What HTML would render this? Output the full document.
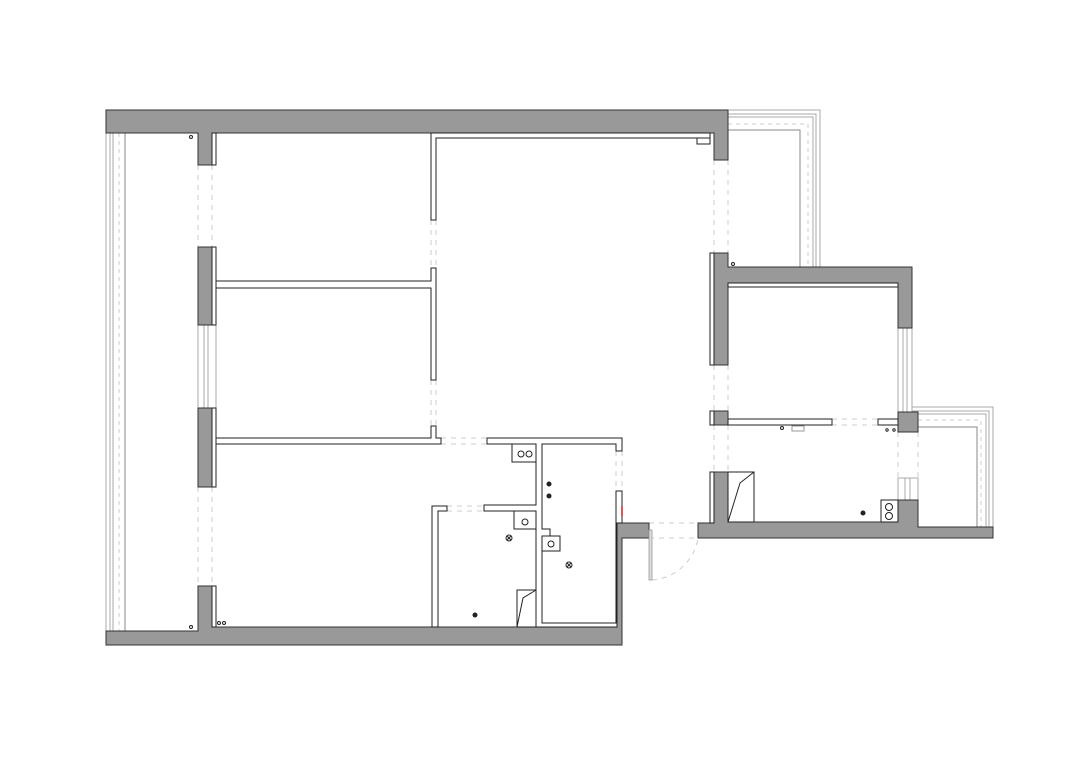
<!DOCTYPE html>
<html><head><style>html,body{margin:0;padding:0;background:#fff}svg{display:block}</style></head>
<body>
<svg width="1080" height="763" viewBox="0 0 1080 763" xmlns="http://www.w3.org/2000/svg">
<g fill="none" stroke="#aaa" stroke-width="1">
<line x1="106" y1="133" x2="106" y2="631"/><line x1="110" y1="133" x2="110" y2="631"/><line x1="113" y1="133" x2="113" y2="631"/>
<line x1="119" y1="133" x2="119" y2="631" stroke-dasharray="4 4" stroke="#ccc"/>
<line x1="125" y1="133" x2="125" y2="631" stroke="#888"/>
<polyline points="728,110 820,110 820,267"/><polyline points="728,114 816,114 816,267"/><polyline points="728,117 813,117 813,267"/>
<polyline points="728,124 808,124 808,267" stroke-dasharray="4 4" stroke="#ccc"/>
<polyline points="728,130 800,130 800,267" stroke="#888"/>
<polyline points="912,407 993,407 993,527"/><polyline points="912,411 989,411 989,527"/><polyline points="918,414 986,414 986,527"/>
<polyline points="918,420 981,420 981,527" stroke-dasharray="4 4" stroke="#ccc"/>
<polyline points="918,427 977,427 977,527" stroke="#888"/>
<rect x="198" y="325" width="18" height="83"/><line x1="204" y1="325" x2="204" y2="408"/><line x1="208" y1="325" x2="208" y2="408"/>
<rect x="898" y="328" width="14" height="84"/><line x1="903" y1="328" x2="903" y2="412"/><line x1="907" y1="328" x2="907" y2="412"/>
<rect x="898" y="478" width="20" height="22"/><line x1="905" y1="478" x2="905" y2="500"/><line x1="910" y1="478" x2="910" y2="500"/>
</g>
<g stroke="#ccc" stroke-width="1" stroke-dasharray="5 5" fill="none">
<line x1="198" y1="165" x2="198" y2="247"/><line x1="212" y1="165" x2="212" y2="247"/>
<line x1="198" y1="487" x2="198" y2="586"/><line x1="212" y1="487" x2="212" y2="586"/>
<line x1="431" y1="220" x2="431" y2="268"/><line x1="436" y1="220" x2="436" y2="268"/>
<line x1="431" y1="380" x2="431" y2="426"/><line x1="436" y1="380" x2="436" y2="426"/>
<line x1="441" y1="438" x2="487" y2="438"/><line x1="441" y1="444" x2="487" y2="444"/>
<line x1="447" y1="506" x2="484" y2="506"/><line x1="447" y1="511" x2="484" y2="511"/>
<line x1="616" y1="451" x2="616" y2="491"/><line x1="622" y1="451" x2="622" y2="491"/>
<line x1="714" y1="160" x2="714" y2="253"/><line x1="728" y1="160" x2="728" y2="253"/>
<line x1="714" y1="365" x2="714" y2="411"/><line x1="728" y1="365" x2="728" y2="411"/>
<line x1="714" y1="425" x2="714" y2="472"/><line x1="728" y1="425" x2="728" y2="472"/>
<line x1="832" y1="419" x2="878" y2="419"/><line x1="832" y1="425" x2="878" y2="425"/>
<line x1="898" y1="432" x2="898" y2="478"/><line x1="918" y1="432" x2="918" y2="478"/>
<line x1="649" y1="523" x2="698" y2="523"/><line x1="649" y1="538" x2="698" y2="538"/>
<path d="M652,580 A50,50 0 0 0 698,538"/>
</g>
<g fill="#999" stroke="#333" stroke-width="1">
<path d="M106,110 H728 V160 H714 V133 H212 V165 H198 V133 H106 Z"/>
<rect x="198" y="247" width="14" height="78"/>
<rect x="198" y="408" width="14" height="79"/>
<path d="M106,645 V631 H198 V586 H212 V627 H617 V523 H649 V538 H622 V645 Z"/>
<path d="M714,253 H728 V267 H912 V328 H898 V283 H728 V365 H714 Z"/>
<rect x="714" y="411" width="14" height="14"/>
<rect x="898" y="412" width="20" height="20"/>
<path d="M698,538 V523 H714 V472 H728 V522 H898 V500 H918 V527 H993 V538 Z"/>
</g>
<g fill="#fff" stroke="#222" stroke-width="1">
<rect x="212" y="133" width="4" height="32"/><rect x="212" y="247" width="4" height="78"/><rect x="212" y="408" width="4" height="79"/><rect x="212" y="586" width="4" height="41"/>
<path d="M431,133 V220 H436 V138 H710 V133 Z"/>
<path d="M697,138 H710 V144 H697 Z"/>
<path d="M216,281 H431 V268 H436 V380 H431 V288 H216 Z"/>
<path d="M216,438 H431 V426 H436 V438 H441 V444 H216 Z"/>
<path d="M487,438 H622 V451 H616 V444 H542 V529 H550 V536 H542 V623 H616 V491 H622 V523 H617 V627 H536 V511 H484 V505 H536 V444 H487 Z"/>
<path d="M432,627 V506 H447 V511 H438 V627 Z"/>
<rect x="710" y="253" width="4" height="112"/><rect x="710" y="411" width="4" height="14"/><rect x="710" y="472" width="4" height="51"/>
<rect x="728" y="283" width="170" height="4"/>
<rect x="728" y="419" width="104" height="6"/><rect x="878" y="419" width="20" height="6"/>
<rect x="512" y="444" width="24" height="18"/><rect x="514" y="511" width="22" height="18"/><rect x="542" y="536" width="18" height="15"/>
<rect x="881" y="500" width="17" height="22"/>
<path d="M517,627 V590 H536 V627 Z"/><path d="M728,472 H754 V522 H728 Z"/>
</g>
<g fill="none" stroke="#222" stroke-width="1">
<polyline points="517,627 523,598 536,590"/><polyline points="728,522 740,483 754,472"/>
<circle cx="521" cy="454" r="3"/><circle cx="529" cy="454" r="3"/><circle cx="525" cy="522" r="3"/><circle cx="551" cy="544" r="3"/>
<circle cx="889" cy="507" r="3.5"/><circle cx="889" cy="516" r="3.5"/>
<circle cx="509" cy="538" r="3"/><line x1="507" y1="536" x2="511" y2="540"/><line x1="511" y1="536" x2="507" y2="540"/>
<circle cx="569" cy="565" r="3"/><line x1="567" y1="563" x2="571" y2="567"/><line x1="571" y1="563" x2="567" y2="567"/>
<circle cx="191" cy="137" r="1.5"/><circle cx="191" cy="627" r="1.5"/><circle cx="219" cy="623" r="1.5"/><circle cx="224" cy="623" r="1.5"/>
<circle cx="733" cy="264" r="1.5"/><circle cx="782" cy="428" r="1.5"/><circle cx="887" cy="430" r="1.2"/><circle cx="894" cy="430" r="1.2"/>
<rect x="792" y="426" width="12" height="5" stroke="#999"/>
</g>
<g fill="#222"><circle cx="549" cy="484" r="2.5"/><circle cx="549" cy="496" r="2.5"/><circle cx="475" cy="615" r="2.5"/><circle cx="863" cy="513" r="2.5"/></g>
<rect x="649" y="530" width="3" height="50" fill="#ddd" stroke="#999" stroke-width="0.8"/>
<rect x="621" y="506" width="2" height="10" fill="#d55"/>
</svg>
</body></html>
